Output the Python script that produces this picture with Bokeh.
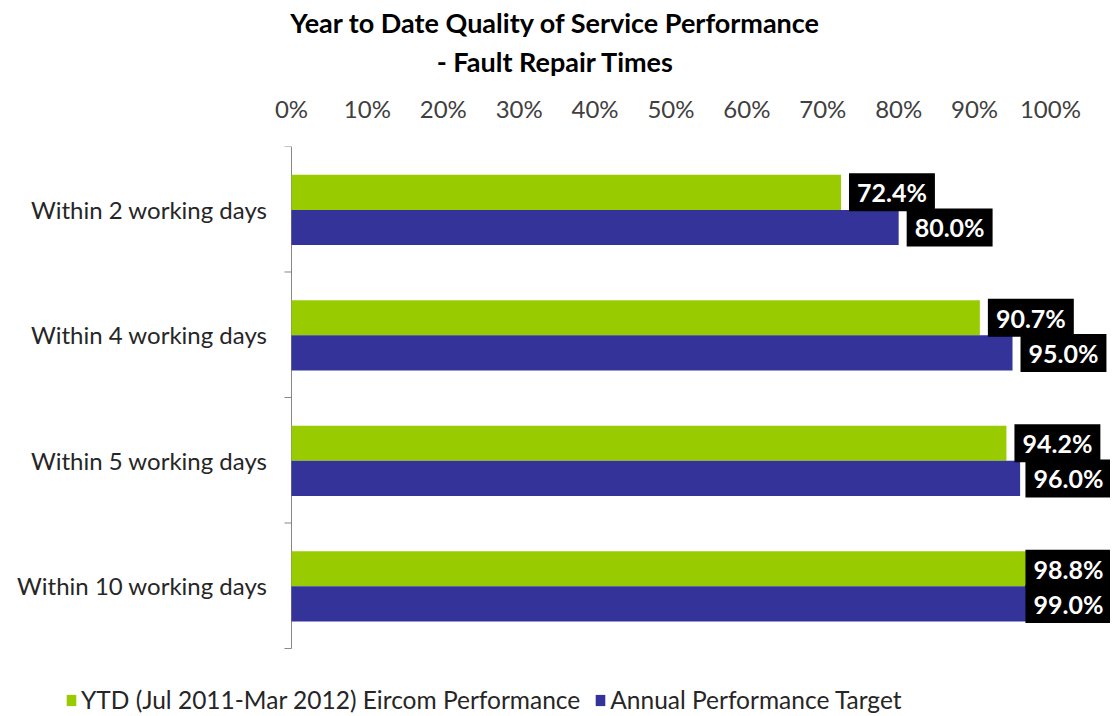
from bokeh.plotting import figure
from bokeh.models import (Range1d, FixedTicker, NumeralTickFormatter, ColumnDataSource,
                          Title, Legend, LegendItem)
from bokeh.core.properties import value
from bokeh.embed import file_html
from bokeh.resources import INLINE
import numpy as np

# ---- data ----
categories = ["Within 2 working days", "Within 4 working days",
              "Within 5 working days", "Within 10 working days"]
ytd_performance = [0.724, 0.907, 0.942, 0.988]
annual_target = [0.800, 0.950, 0.960, 0.990]
series_names = ["YTD (Jul 2011-Mar 2012) Eircom Performance", "Annual Performance Target"]
x_ticks = [0.0, 0.1, 0.2, 0.3, 0.4, 0.5, 0.6, 0.7, 0.8, 0.9, 1.0]
title_lines = ["Year to Date Quality of Service Performance", "- Fault Repair Times"]

GREEN = "#99CC00"
BLUE = "#333399"
AXIS_GRAY = "#868686"
FONT = "Lato"
LABEL_MAX = 0.9565  # data labels are kept inside the chart area

n = len(categories)
pos = np.arange(n)

# the frame spans the full width; value 0 sits where the category axis is drawn
p = figure(width=1110, height=716, output_backend="svg", toolbar_location=None,
           x_range=Range1d(-0.3834, 1.0791), y_range=Range1d(4.042, -0.5),
           x_axis_location="above", y_axis_location=None,
           min_border_left=0, min_border_right=0, min_border_top=146, min_border_bottom=0)
p.outline_line_color = None
p.xgrid.visible = False
p.ygrid.visible = False

# top value axis (its axis label carries the second title line)
xa = p.xaxis[0]
xa.ticker = FixedTicker(ticks=x_ticks)
xa.formatter = NumeralTickFormatter(format="0%")
xa.axis_line_color = None
xa.major_tick_line_color = None
xa.minor_tick_line_color = None
xa.major_tick_out = 0
xa.major_label_standoff = 24
xa.major_label_text_font = FONT
xa.major_label_text_font_size = "24px"
xa.major_label_text_color = "#404040"
xa.axis_label = title_lines[1]
xa.axis_label_standoff = 13
xa.axis_label_text_font = FONT
xa.axis_label_text_font_style = "bold"
xa.axis_label_text_font_size = "27px"
xa.axis_label_text_color = "black"

# category axis: line, boundary ticks and labels
bounds = np.arange(n + 1) - 0.5
p.segment(x0=0, y0=bounds[0], x1=0, y1=bounds[-1], line_color=AXIS_GRAY, line_width=1)
p.ray(x=0, y=bounds, length=7, length_units="screen", angle=np.pi,
      line_color=AXIS_GRAY, line_width=1)
p.text(x=0, y=pos, text=categories, x_offset=-24, text_align="right", text_baseline="middle",
       text_font=value(FONT), text_font_size="24px", text_color="#262626")

bar_h = 0.28
src = ColumnDataSource(dict(
    y1=pos - 0.135, y2=pos + 0.145,
    v1=ytd_performance, v2=annual_target,
    l1=["{:.1f}%".format(v * 100) for v in ytd_performance],
    l2=["{:.1f}%".format(v * 100) for v in annual_target],
    x1=np.minimum(ytd_performance, LABEL_MAX),
    x2=np.minimum(annual_target, LABEL_MAX),
))

r1 = p.hbar(y="y1", left=0, right="v1", height=bar_h, source=src, fill_color=GREEN, line_color=None)
r2 = p.hbar(y="y2", left=0, right="v2", height=bar_h, source=src, fill_color=BLUE, line_color=None)

for xcol, ycol, lcol in (("x1", "y1", "l1"), ("x2", "y2", "l2")):
    p.text(x=xcol, y=ycol, text=lcol, source=src, x_offset=8, text_align="left",
           text_baseline="middle", text_color="white", text_font=value(FONT),
           text_font_style="bold", text_font_size="25px",
           background_fill_color="black",
           padding=dict(left=8, right=8, top=4, bottom=4))

# first title line
p.title = Title(text=title_lines[0], align="center", standoff=6,
                text_font=FONT, text_font_style="bold", text_font_size="27px", text_color="black")

legend = Legend(items=[LegendItem(label=series_names[0], renderers=[r1]),
                       LegendItem(label=series_names[1], renderers=[r2])],
                orientation="horizontal", location=(65, 2),
                padding=0, margin=0, spacing=14, label_standoff=4,
                glyph_width=12, glyph_height=14, border_line_color=None,
                background_fill_alpha=0, label_text_font=FONT, label_text_font_size="24.5px",
                label_text_color="#262626")
p.add_layout(legend)

open("out.html", "w").write(file_html(p, INLINE))
